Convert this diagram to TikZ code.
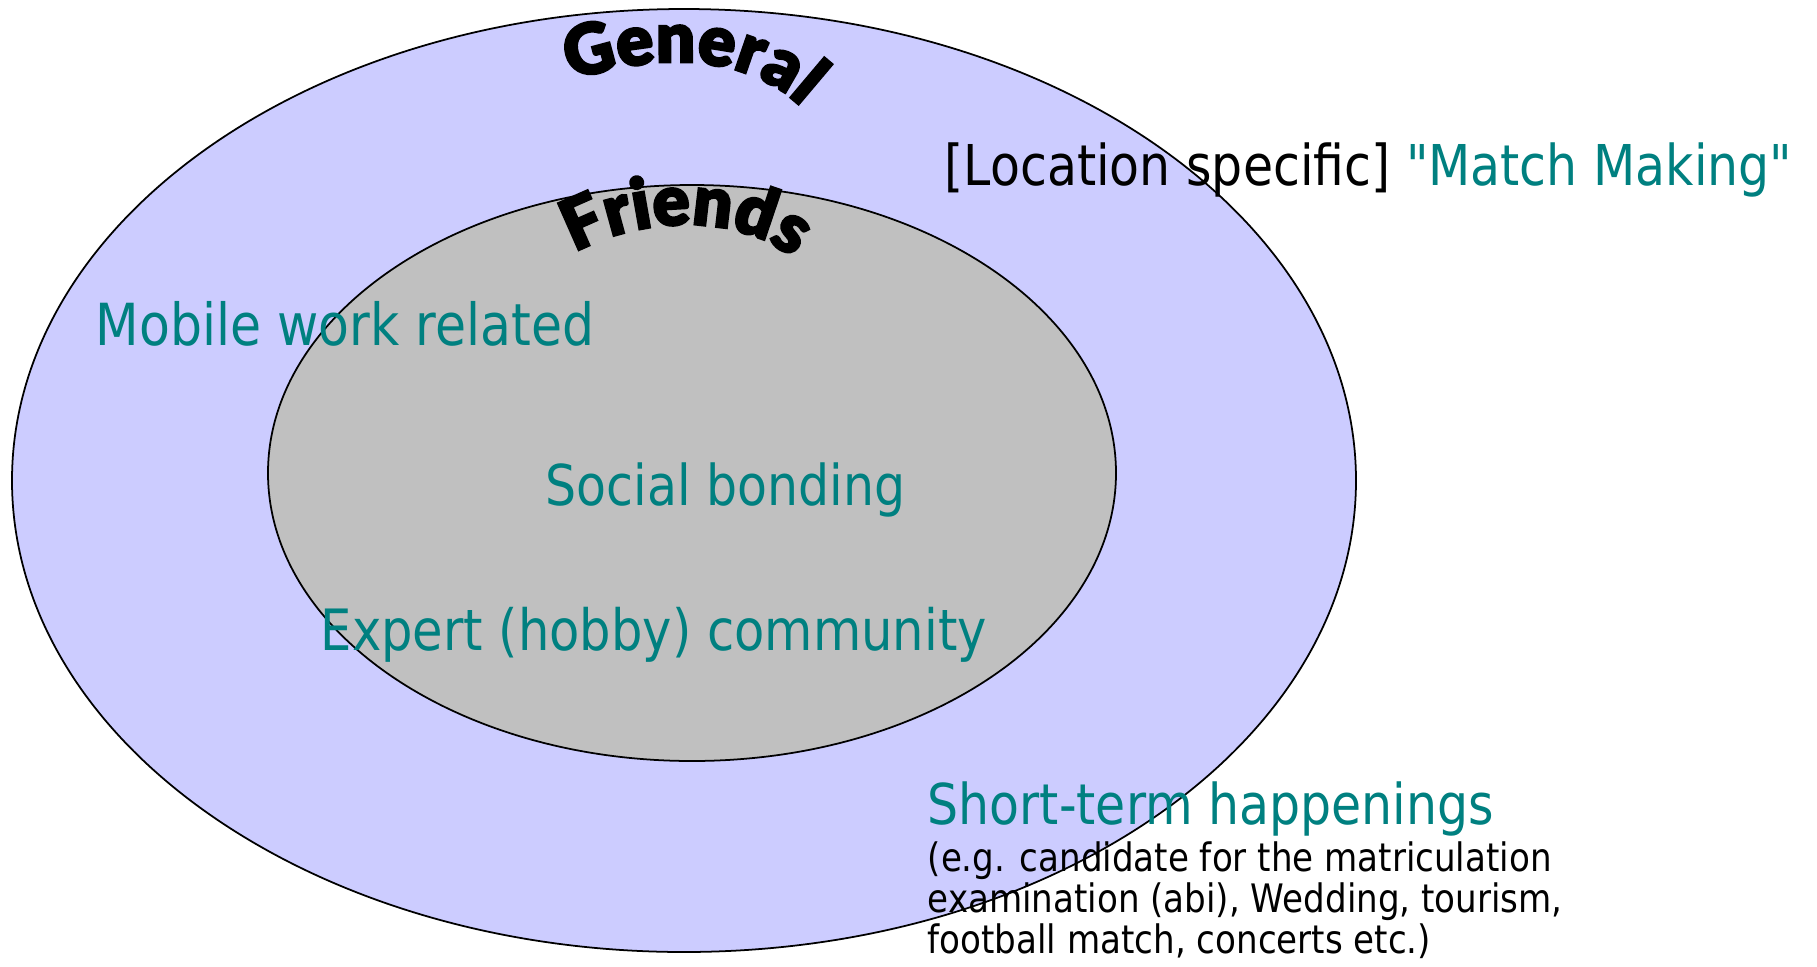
\documentclass[tikz,border=0pt]{standalone}
\usepackage{fontspec}
\setmainfont{DejaVu Sans}[FakeStretch=0.87, Ligatures=TeXOff]
\newfontfamily\archfont{Lato Black}[FakeStretch=0.98, FakeBold=3]
\usetikzlibrary{decorations.text}
\definecolor{lavender}{HTML}{CCCCFF}
\definecolor{silvergray}{HTML}{C0C0C0}
\definecolor{tealtext}{HTML}{008080}
\newcommand\archtext{\archfont\fontsize{20}{22}\selectfont}

\begin{document}
\begin{tikzpicture}[x=0.01cm, y=-0.01cm,
  ring/.style={draw=black, line width=0.5pt},
  topic/.style={anchor=base west, inner sep=0pt, text=tealtext,
    font=\fontsize{16}{19}\selectfont},
  note/.style={anchor=base west, inner sep=0pt,
    font=\fontsize{11.15}{13}\selectfont},
  arch/.style={decorate, decoration={text along path, text align=center}}]
\useasboundingbox (0,0) rectangle (1817,966);
\fill[white] (0,0) rectangle (1817,966);

% the two circles of contacts
\path[ring, fill=lavender] (684,480.5) ellipse [x radius=672, y radius=471.5];
\path[ring, fill=silvergray] (692,473) ellipse [x radius=424, y radius=288];

% arched headings
\path[arch, decoration={text={|\archtext|General}}]
  (552,88) .. controls (635,55) and (750,42) .. (815,122);
\path[arch, decoration={text={|\archtext|Friends}}]
  (558,264) .. controls (620,217) and (745,204) .. (808,272);

% topics
\node[topic, text=black] (loc) at (944,185) {[Location specific] \textcolor{tealtext}{"Match Making"}};
\node[topic, font=\fontsize{16.5}{19}\selectfont] (mobile) at (95,345) {Mobile work related};
\node[topic] (social) at (545,505) {Social bonding};
\node[topic, font=\fontsize{16.2}{19}\selectfont] (expert) at (320,650) {Expert (hobby) community};
\node[topic] (short) at (927,824) {Short-term happenings};
\node[note] (ex1) at (927,871) {(e.g. candidate for the matriculation};
\node[note] (ex2) at (927,912) {examination (abi), Wedding, tourism,};
\node[note] (ex3) at (927,953) {football match, concerts etc.)};
\end{tikzpicture}
\end{document}
